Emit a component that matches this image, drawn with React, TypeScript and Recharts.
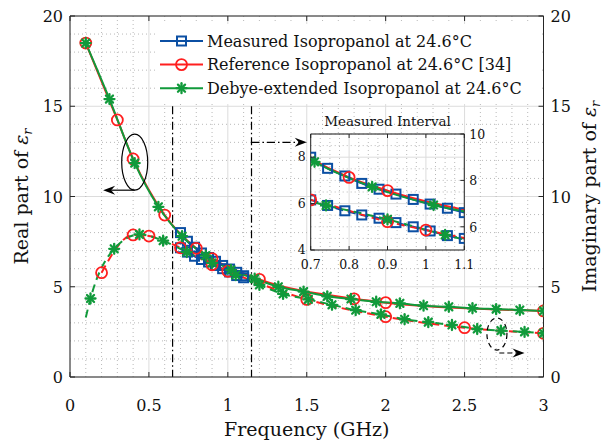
import React from 'react';
import {
  CartesianGrid,
  Legend,
  Line,
  LineChart,
  ReferenceDot,
  ReferenceLine,
  XAxis,
  YAxis,
} from 'recharts';

// measured samples (0.7 - 1.1 GHz)
const measFreq = [0.7, 0.744, 0.789, 0.833, 0.878, 0.922, 0.967, 1.011, 1.056, 1.1];
const measReal = [8.0, 7.52, 7.19, 6.87, 6.62, 6.41, 6.18, 5.98, 5.8, 5.61];
const measImag = [7.16, 6.92, 6.69, 6.51, 6.37, 6.18, 6.0, 5.82, 5.62, 5.5];

// literature values [34]
const refRealFreq = [0.1, 0.3, 0.4, 0.6, 0.8, 0.9, 1.2, 1.8, 2.0, 3.0];
const refReal = [18.5, 14.24, 12.08, 8.97, 7.13, 6.56, 5.41, 4.33, 4.12, 3.66];
const refImagFreq = [0.2, 0.4, 0.5, 0.7, 0.9, 1.0, 1.5, 2.0, 2.5, 3.0];
const refImag = [5.78, 7.87, 7.81, 7.16, 6.22, 5.86, 4.3, 3.34, 2.73, 2.42];

// Debye-extended model
const debyeRealFreq = [0.1, 0.25, 0.41, 0.56, 0.71, 0.86, 1.02, 1.17, 1.32, 1.48, 1.63, 1.78, 1.94, 2.09, 2.24, 2.4, 2.55, 2.7, 2.85, 3.0];
const debyeReal = [18.5, 15.4, 11.85, 9.43, 7.8, 6.72, 5.94, 5.45, 5.0, 4.73, 4.47, 4.32, 4.17, 4.08, 3.95, 3.89, 3.81, 3.76, 3.71, 3.66];
const debyeImagFreq = [0.1, 0.13, 0.28, 0.44, 0.59, 0.74, 0.9, 1.05, 1.2, 1.35, 1.51, 1.66, 1.81, 1.97, 2.12, 2.27, 2.42, 2.58, 2.73, 2.88, 3.0];
const debyeImag = [3.3, 4.35, 7.1, 7.9, 7.55, 6.92, 6.32, 5.65, 5.1, 4.6, 4.3, 4.0, 3.7, 3.47, 3.2, 3.04, 2.88, 2.66, 2.57, 2.5, 2.42];

const xTicks = [0, 0.5, 1, 1.5, 2, 2.5, 3];
const yTicks = [0, 5, 10, 15, 20];
const insetXTicks = [0.7, 0.8, 0.9, 1, 1.1];
const insetLeftTicks = [4, 6, 8];
const insetRightTicks = [6, 8, 10];

const legendLabels = [
  'Measured Isopropanol at 24.6°C',
  'Reference Isopropanol at 24.6°C [34]',
  'Debye-extended Isopropanol at 24.6°C',
];

const BLUE = '#0b4fa3';
const RED = '#ff1f1f';
const GREEN = '#119a3b';
const AXIS = '#262626';
const MAJOR = '#dcdcdc';
const MINOR = '#b9b9b9';
const FONT = '"DejaVu Serif", serif';
const txt = { fontFamily: FONT };

// main plot box
const PL = 70;
const PR = 543.5;
const PT = 16;
const PB = 377;

// inset plot box (inside its own svg)
const IL = 34.7;
const IR = 188.3;
const IT = 10;
const IB = 126;

const pts = (fs: number[], vs: number[]) => fs.map((f, i) => ({ f, v: vs[i] }));

const steps = (from: number, to: number, step: number, skip: number[]) => {
  const out: number[] = [];
  const n = Math.round((to - from) / step);
  for (let i = 0; i <= n; i++) {
    const v = +(from + i * step).toFixed(4);
    if (!skip.some((s) => Math.abs(s - v) < 1e-6)) out.push(v);
  }
  return out;
};

const minorX = steps(0, 3, 0.1, xTicks);
const minorY = steps(0, 20, 1, yTicks);
const insetMinorX = steps(0.7, 1.1, 0.025, insetXTicks);
const insetMinorY = steps(4, 9, 0.5, [4, 6, 8]);

const Square = ({ cx, cy }: any) => (
  <rect x={cx - 4.5} y={cy - 4.5} width={9} height={9} fill="none" stroke={BLUE} strokeWidth={2} />
);
const Ring = ({ cx, cy }: any) => (
  <circle cx={cx} cy={cy} r={5.5} fill="none" stroke={RED} strokeWidth={1.8} />
);
const Star = ({ cx, cy }: any) => {
  const r = 5;
  const d = r * 0.7071;
  return (
    <g stroke={GREEN} strokeWidth={2.3} strokeLinecap="round">
      <line x1={cx - r} y1={cy} x2={cx + r} y2={cy} />
      <line x1={cx} y1={cy - r} x2={cx} y2={cy + r} />
      <line x1={cx - d} y1={cy - d} x2={cx + d} y2={cy + d} />
      <line x1={cx - d} y1={cy + d} x2={cx + d} y2={cy - d} />
    </g>
  );
};

const squareDot = (p: any) => <Square key={p.index} cx={p.cx} cy={p.cy} />;
const ringDot = (p: any) => <Ring key={p.index} cx={p.cx} cy={p.cy} />;
const starDot = (p: any) => <Star key={p.index} cx={p.cx} cy={p.cy} />;
// the imaginary model curve starts one sample before its first marker
const starDotSkipFirst = (p: any) =>
  p.index === 0 ? <g key={p.index} /> : <Star key={p.index} cx={p.cx} cy={p.cy} />;

const Arrow = (props: any) => {
  const { x1, y1, x2, y2, dash } = props;
  const a = Math.atan2(y2 - y1, x2 - x1);
  const ux = Math.cos(a);
  const uy = Math.sin(a);
  const L = 12;
  const W = 4.5;
  const N = 8;
  const bx = x2 - ux * L;
  const by = y2 - uy * L;
  const nx = x2 - ux * N;
  const ny = y2 - uy * N;
  return (
    <g>
      <line x1={x1} y1={y1} x2={nx} y2={ny} stroke="#000" strokeWidth={1.2} strokeDasharray={dash} />
      <polygon
        points={`${x2},${y2} ${bx - uy * W},${by + ux * W} ${nx},${ny} ${bx + uy * W},${by - ux * W}`}
        fill="#000"
      />
    </g>
  );
};

const MainXTick = ({ x, payload }: any) => (
  <g>
    <line x1={x} x2={x} y1={PB} y2={PB - 5} stroke={AXIS} />
    <line x1={x} x2={x} y1={PT} y2={PT + 5} stroke={AXIS} />
    <text x={x} y={PB + 34} textAnchor="middle" style={txt} fontSize={16} fill="#111">
      {payload.value}
    </text>
  </g>
);
const MainLeftTick = ({ y, payload }: any) => (
  <g>
    <line x1={PL} x2={PL + 5} y1={y} y2={y} stroke={AXIS} />
    <text x={PL - 7} y={y + 6} textAnchor="end" style={txt} fontSize={16} fill="#111">
      {payload.value}
    </text>
  </g>
);
const MainRightTick = ({ y, payload }: any) => (
  <g>
    <line x1={PR} x2={PR - 5} y1={y} y2={y} stroke={AXIS} />
    <text x={PR + 7} y={y + 6} textAnchor="start" style={txt} fontSize={16} fill="#111">
      {payload.value}
    </text>
  </g>
);

const InsetXTick = ({ x, payload }: any) => (
  <g>
    <line x1={x} x2={x} y1={IB} y2={IB - 4} stroke={AXIS} />
    <line x1={x} x2={x} y1={IT} y2={IT + 4} stroke={AXIS} />
    <text x={x} y={IB + 19} textAnchor="middle" style={txt} fontSize={12.5} fill="#111">
      {payload.value}
    </text>
  </g>
);
const InsetLeftTick = ({ y, payload }: any) => (
  <g>
    <line x1={IL} x2={IL + 4} y1={y} y2={y} stroke={AXIS} />
    <text x={IL - 5} y={y + 4} textAnchor="end" style={txt} fontSize={12.5} fill="#111">
      {payload.value}
    </text>
  </g>
);
const InsetRightTick = ({ y, payload }: any) => (
  <g>
    <line x1={IR} x2={IR - 4} y1={y} y2={y} stroke={AXIS} />
    <text x={IR + 5} y={y + 5} textAnchor="start" style={txt} fontSize={12.5} fill="#111">
      {payload.value}
    </text>
  </g>
);

const LegendBox = () => {
  const markers = [Square, Ring, Star];
  const colors = [BLUE, RED, GREEN];
  return (
    <svg width={385} height={80}>
      <rect width={385} height={80} fill="#fff" />
      {legendLabels.map((label, i) => {
        const y = 17 + i * 23.6;
        const M = markers[i];
        return (
          <g key={label}>
            <line x1={5} x2={48} y1={y} y2={y} stroke={colors[i]} strokeWidth={2} />
            <M cx={26.5} cy={y} />
            <text x={52} y={y + 5.5} style={txt} fontSize={16} fill="#111">
              {label}
            </text>
          </g>
        );
      })}
    </svg>
  );
};

const seriesLines = (left: string, right: string) => [
  <Line key="mr" yAxisId={left} data={pts(measFreq, measReal)} dataKey="v" type="monotone" stroke={BLUE} strokeWidth={2} dot={squareDot} activeDot={false} isAnimationActive={false} />,
  <Line key="mi" yAxisId={right} data={pts(measFreq, measImag)} dataKey="v" type="monotone" stroke={BLUE} strokeWidth={2} strokeDasharray="8 5" dot={squareDot} activeDot={false} isAnimationActive={false} />,
  <Line key="rr" yAxisId={left} data={pts(refRealFreq, refReal)} dataKey="v" type="monotone" stroke={RED} strokeWidth={2} dot={ringDot} activeDot={false} isAnimationActive={false} />,
  <Line key="ri" yAxisId={right} data={pts(refImagFreq, refImag)} dataKey="v" type="monotone" stroke={RED} strokeWidth={2} strokeDasharray="8 5" dot={ringDot} activeDot={false} isAnimationActive={false} />,
  <Line key="dr" yAxisId={left} data={pts(debyeRealFreq, debyeReal)} dataKey="v" type="monotone" stroke={GREEN} strokeWidth={2} dot={starDot} activeDot={false} isAnimationActive={false} />,
  <Line key="di" yAxisId={right} data={pts(debyeImagFreq, debyeImag)} dataKey="v" type="monotone" stroke={GREEN} strokeWidth={2} strokeDasharray="8 5" dot={starDotSkipFirst} activeDot={false} isAnimationActive={false} />,
];

const DASHDOT = '8 3 1.5 3';

export default function App() {
  return (
    <div style={{ position: 'absolute', left: 0, top: 0, width: 603, height: 445, background: '#fff' }}>
      <LineChart width={603} height={445} margin={{ top: PT, right: 19.5, bottom: 38, left: 25 }}>
        <CartesianGrid yAxisId="left" stroke={MAJOR} strokeWidth={1} />
        <CartesianGrid
          yAxisId="left"
          verticalValues={minorX}
          horizontalValues={minorY}
          stroke={MINOR}
          strokeDasharray="1 3"
        />
        <XAxis
          type="number"
          dataKey="f"
          domain={[0, 3]}
          ticks={xTicks}
          interval={0}
          allowDataOverflow
          height={30}
          tickLine={false}
          axisLine={{ stroke: AXIS }}
          tick={<MainXTick />}
        />
        <YAxis
          yAxisId="left"
          domain={[0, 20]}
          ticks={yTicks}
          interval={0}
          allowDataOverflow
          width={45}
          tickLine={false}
          axisLine={{ stroke: AXIS }}
          tick={<MainLeftTick />}
        />
        <YAxis
          yAxisId="right"
          orientation="right"
          domain={[0, 20]}
          ticks={yTicks}
          interval={0}
          allowDataOverflow
          width={40}
          tickLine={false}
          axisLine={{ stroke: AXIS }}
          tick={<MainRightTick />}
        />
        <ReferenceLine yAxisId="left" y={20} stroke={AXIS} />

        {/* dash-dot markers bounding the measured band */}
        <ReferenceLine yAxisId="left" segment={[{ x: 0.65, y: 15 }, { x: 0.65, y: 0 }]} stroke="#000" strokeWidth={1.2} strokeDasharray={DASHDOT} />
        <ReferenceLine yAxisId="left" segment={[{ x: 1.15, y: 15 }, { x: 1.15, y: 0 }]} stroke="#000" strokeWidth={1.2} strokeDasharray={DASHDOT} />
        <ReferenceLine yAxisId="left" segment={[{ x: 1.15, y: 13 }, { x: 1.5, y: 13 }]} shape={<Arrow dash={DASHDOT} />} />

        {/* real part -> left axis, imaginary part -> right axis */}
        <ReferenceDot
          yAxisId="left"
          x={0.41}
          y={11.9}
          shape={(p: any) => <ellipse cx={p.cx} cy={p.cy} rx={13} ry={28} fill="none" stroke="#000" strokeWidth={1.2} />}
        />
        <ReferenceLine yAxisId="left" segment={[{ x: 0.41, y: 10.35 }, { x: 0.21, y: 10.35 }]} shape={<Arrow />} />
        <ReferenceDot
          yAxisId="right"
          x={2.705}
          y={2.38}
          shape={(p: any) => <ellipse cx={p.cx} cy={p.cy} rx={10} ry={16} fill="none" stroke="#000" strokeWidth={1.2} strokeDasharray="5 4" />}
        />
        <ReferenceLine yAxisId="right" segment={[{ x: 2.72, y: 1.33 }, { x: 2.88, y: 1.33 }]} shape={<Arrow dash="5 3" />} />

        {seriesLines('left', 'right')}

        <Legend
          layout="vertical"
          align="center"
          verticalAlign="middle"
          wrapperStyle={{ left: 155, top: 24, width: 385, height: 80 }}
          content={() => <LegendBox />}
        />
      </LineChart>

      <div style={{ position: 'absolute', left: 276, top: 124 }}>
        <LineChart width={224} height={156} margin={{ top: IT, right: 0, bottom: 0, left: 0 }}>
          <CartesianGrid yAxisId="l" stroke={MAJOR} fill="#fff" fillOpacity={1} />
          <CartesianGrid
            yAxisId="l"
            verticalValues={insetMinorX}
            horizontalValues={insetMinorY}
            stroke={MINOR}
            strokeDasharray="1 3"
          />
          <XAxis
            type="number"
            dataKey="f"
            domain={[0.7, 1.1]}
            ticks={insetXTicks}
            interval={0}
            allowDataOverflow
            height={30}
            tickLine={false}
            axisLine={{ stroke: AXIS }}
            tick={<InsetXTick />}
          />
          <YAxis
            yAxisId="l"
            domain={[4, 9]}
            ticks={insetLeftTicks}
            interval={0}
            allowDataOverflow
            width={IL}
            tickLine={false}
            axisLine={{ stroke: AXIS }}
            tick={<InsetLeftTick />}
          />
          <YAxis
            yAxisId="r"
            orientation="right"
            domain={[5, 10]}
            ticks={insetRightTicks}
            interval={0}
            allowDataOverflow
            width={224 - IR}
            tickLine={false}
            axisLine={{ stroke: AXIS }}
            tick={<InsetRightTick />}
          />
          <ReferenceLine yAxisId="l" y={9} stroke={AXIS} />
          {seriesLines('l', 'r')}
        </LineChart>
      </div>

      <svg
        width={603}
        height={445}
        style={{ position: 'absolute', left: 0, top: 0, pointerEvents: 'none', fontFamily: FONT }}
        fill="#111"
      >
        <text transform={`translate(28, ${(PT + PB) / 2}) rotate(-90)`} textAnchor="middle" style={txt} fontSize={19}>
          Real part of <tspan fontStyle="italic">ε</tspan>
          <tspan fontStyle="italic" fontSize={13} dy={4}>r</tspan>
        </text>
        <text transform={`translate(596, ${(PT + PB) / 2}) rotate(-90)`} textAnchor="middle" style={txt} fontSize={19}>
          Imaginary part of <tspan fontStyle="italic">ε</tspan>
          <tspan fontStyle="italic" fontSize={13} dy={4}>r</tspan>
        </text>
        <text x={(PL + PR) / 2} y={436} textAnchor="middle" style={txt} fontSize={19}>
          Frequency (GHz)
        </text>
        <text x={276 + (IL + IR) / 2} y={126} textAnchor="middle" style={txt} fontSize={13.5}>
          Measured Interval
        </text>
      </svg>
    </div>
  );
}
